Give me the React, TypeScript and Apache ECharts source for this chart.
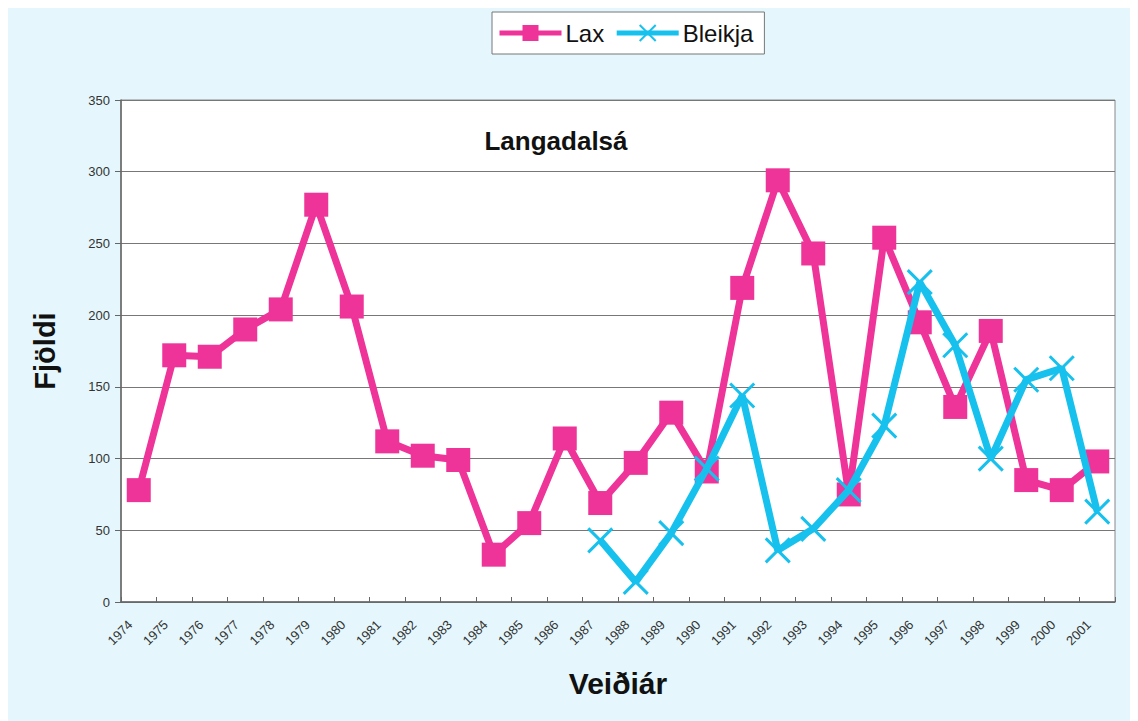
import React, { useEffect, useRef } from "react";
import * as echarts from "echarts";

const years = [
  "1974", "1975", "1976", "1977", "1978", "1979", "1980", "1981", "1982", "1983",
  "1984", "1985", "1986", "1987", "1988", "1989", "1990", "1991", "1992", "1993",
  "1994", "1995", "1996", "1997", "1998", "1999", "2000", "2001",
];
const lax = [
  78, 172, 171, 190, 204, 277, 206, 112, 102, 99,
  33, 55, 114, 69, 97, 132, 91, 219, 294, 243,
  75, 254, 195, 136, 189, 85, 78, 98,
];
const bleikja: (number | null)[] = [
  null, null, null, null, null, null, null, null, null, null,
  null, null, null, 43, 14, 48, 93, 144, 36, 51,
  78, 123, 223, 179, 100, 155, 163, 63,
];
const yTicks = [0, 50, 100, 150, 200, 250, 300, 350];

const PINK = "#ee3399";
const CYAN = "#17c1ee";
const FONT = "Liberation Sans, Arial, sans-serif";
const XSYM = "path://M0,0L10,10M10,0L0,10";

export default function App() {
  const ref = useRef<HTMLDivElement>(null);
  useEffect(() => {
    if (!ref.current) return;
    const chart = echarts.init(ref.current, null, { renderer: "svg" });
    chart.setOption({
      animation: false,
      backgroundColor: "#e5f7fc",
      textStyle: { fontFamily: FONT },
      title: {
        text: "Langadalsá",
        left: 543,
        top: 115,
        textAlign: "center",
        textStyle: { fontSize: 26, fontWeight: "bold", color: "#111", fontFamily: FONT },
      },
      legend: {
        left: 484,
        top: 4,
        backgroundColor: "#ffffff",
        borderColor: "#777",
        borderWidth: 1,
        borderRadius: 0,
        padding: [9, 11, 9, 5],
        itemGap: 10,
        itemWidth: 62,
        itemHeight: 20,
        lineStyle: { width: 5 },
        textStyle: { fontSize: 24, color: "#111", fontFamily: FONT, padding: [0, 0, 0, -1] },
        data: [
          { name: "Lax" },
          { name: "Bleikja" },
        ],
      },
      grid: {
        left: 113,
        right: 23,
        top: 92,
        bottom: 119,
        show: true,
        backgroundColor: "#ffffff",
        borderColor: "#888",
        borderWidth: 1,
      },
      xAxis: {
        type: "category",
        data: years,
        boundaryGap: true,
        name: "Veiðiár",
        nameLocation: "middle",
        nameGap: 66,
        nameTextStyle: { fontSize: 30, fontWeight: "bold", color: "#111", fontFamily: FONT },
        axisLine: { show: true, lineStyle: { color: "#666", width: 1.5 } },
        axisTick: { show: true, alignWithLabel: false, length: 5, inside: true, lineStyle: { color: "#666" } },
        axisLabel: { rotate: 45, fontSize: 13, color: "#333", margin: 12, padding: [0, 12, 0, 0], interval: 0 },
        splitLine: { show: false },
      },
      yAxis: {
        type: "value",
        min: 0,
        max: 350,
        interval: 50,
        name: "Fjöldi",
        nameLocation: "middle",
        nameGap: 62,
        nameRotate: 90,
        nameTextStyle: { fontSize: 29, fontWeight: "bold", color: "#111", fontFamily: FONT },
        axisLine: { show: true, lineStyle: { color: "#666", width: 1.5 } },
        axisTick: { show: true, length: 6, lineStyle: { color: "#666" } },
        axisLabel: {
          fontSize: 13,
          color: "#333",
          margin: 11,
          formatter: (v: number) => (yTicks.includes(v) ? String(v) : ""),
        },
        splitLine: { show: true, lineStyle: { color: "#777", width: 1 } },
      },
      series: [
        {
          name: "Lax",
          type: "line",
          data: lax,
          color: PINK,
          lineStyle: { color: PINK, width: 7 },
          symbol: "rect",
          symbolSize: 24,
          itemStyle: { color: PINK },
          z: 2,
        },
        {
          name: "Bleikja",
          type: "line",
          data: bleikja,
          color: CYAN,
          connectNulls: false,
          lineStyle: { color: CYAN, width: 7 },
          symbol: XSYM,
          symbolSize: 24,
          itemStyle: { color: "none", borderColor: CYAN, borderWidth: 3 },
          z: 3,
        },
      ],
    });
    return () => chart.dispose();
  }, []);
  return <div ref={ref} style={{ width: 1130, height: 713 }} />;
}
